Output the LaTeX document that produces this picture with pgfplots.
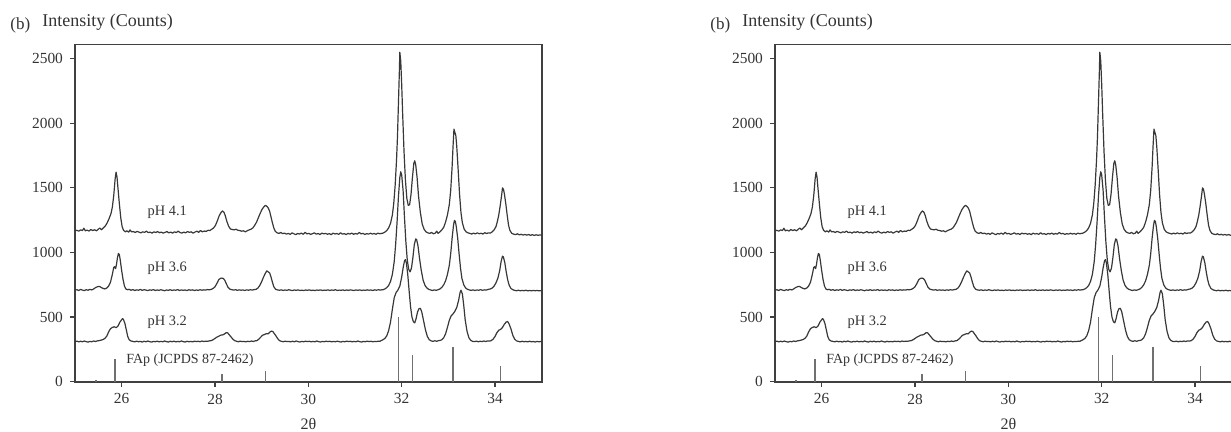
\documentclass[border=0pt]{standalone}
\usepackage{fontspec}
\setmainfont{Liberation Serif}
\usepackage{pgfplots}
\usepackage{pgfplotstable}
\pgfplotsset{compat=1.18}

% pH 4.1
\pgfplotstableread{
x y
25.00 1168
25.04 1172
25.08 1165
25.12 1175
25.16 1170
25.19 1188
25.22 1168
25.26 1173
25.30 1166
25.34 1178
25.38 1170
25.42 1176
25.46 1168
25.50 1180
25.53 1190
25.57 1176
25.61 1192
25.65 1205
25.69 1230
25.73 1262
25.77 1300
25.80 1350
25.83 1440
25.86 1570
25.88 1622
25.90 1585
25.92 1500
25.95 1380
25.98 1270
26.01 1200
26.04 1172
26.08 1160
26.11 1168
26.15 1158
26.18 1175
26.21 1160
26.25 1162
26.29 1155
26.33 1163
26.37 1158
26.41 1152
26.45 1160
26.49 1156
26.53 1165
26.57 1154
26.61 1158
26.65 1150
26.69 1160
26.73 1155
26.77 1162
26.81 1153
26.85 1158
26.89 1150
26.93 1156
26.97 1162
27.01 1152
27.05 1158
27.09 1150
27.13 1160
27.17 1154
27.21 1165
27.25 1155
27.29 1150
27.33 1158
27.37 1152
27.41 1162
27.45 1156
27.49 1160
27.53 1150
27.57 1158
27.61 1165
27.65 1156
27.69 1170
27.73 1160
27.77 1166
27.81 1163
27.85 1172
27.89 1170
27.93 1180
27.97 1190
28.01 1210
28.05 1245
28.09 1285
28.13 1310
28.16 1322
28.19 1312
28.22 1285
28.25 1245
28.29 1205
28.33 1182
28.37 1178
28.41 1175
28.45 1180
28.49 1172
28.53 1170
28.57 1165
28.61 1168
28.65 1160
28.69 1168
28.73 1175
28.77 1180
28.81 1190
28.85 1210
28.89 1235
28.93 1270
28.97 1305
29.01 1335
29.05 1355
29.08 1365
29.11 1358
29.14 1345
29.17 1320
29.20 1275
29.23 1230
29.26 1190
29.29 1165
29.33 1152
29.37 1148
29.41 1155
29.45 1146
29.49 1150
29.53 1142
29.57 1148
29.61 1140
29.65 1152
29.69 1145
29.73 1138
29.77 1147
29.81 1143
29.85 1150
29.89 1141
29.93 1156
29.97 1144
30.01 1148
30.05 1140
30.09 1146
30.13 1152
30.17 1142
30.21 1147
30.25 1139
30.29 1150
30.33 1144
30.37 1148
30.41 1141
30.45 1146
30.49 1138
30.53 1150
30.57 1143
30.61 1147
30.65 1140
30.69 1153
30.73 1142
30.77 1146
30.81 1139
30.85 1148
30.89 1143
30.93 1150
30.97 1141
31.01 1147
31.05 1142
31.09 1155
31.13 1144
31.17 1148
31.21 1140
31.25 1146
31.29 1142
31.33 1149
31.37 1143
31.41 1147
31.45 1141
31.49 1150
31.53 1145
31.57 1148
31.60 1150
31.64 1158
31.68 1170
31.72 1190
31.76 1225
31.80 1290
31.83 1380
31.86 1520
31.89 1720
31.91 1900
31.93 2150
31.95 2400
31.96 2550
31.98 2480
32.00 2300
32.02 2080
32.05 1780
32.08 1560
32.11 1420
32.14 1365
32.17 1370
32.20 1450
32.23 1580
32.26 1690
32.28 1710
32.30 1680
32.33 1580
32.36 1440
32.40 1310
32.44 1220
32.48 1180
32.52 1160
32.56 1152
32.60 1148
32.64 1155
32.68 1145
32.72 1150
32.75 1165
32.78 1148
32.82 1160
32.86 1175
32.90 1195
32.94 1235
32.98 1290
33.02 1370
33.05 1480
33.08 1660
33.10 1820
33.12 1955
33.14 1930
33.16 1905
33.18 1820
33.21 1640
33.24 1450
33.27 1310
33.30 1230
33.34 1180
33.38 1160
33.42 1152
33.46 1148
33.50 1143
33.54 1150
33.58 1144
33.62 1152
33.66 1145
33.70 1149
33.74 1143
33.78 1153
33.82 1147
33.86 1152
33.90 1150
33.94 1160
33.98 1175
34.02 1200
34.05 1240
34.08 1290
34.11 1360
34.14 1440
34.16 1500
34.18 1490
34.20 1455
34.23 1380
34.26 1290
34.29 1210
34.32 1170
34.36 1148
34.40 1142
34.44 1138
34.48 1145
34.52 1136
34.56 1141
34.60 1135
34.64 1140
34.68 1134
34.72 1139
34.76 1133
34.80 1138
34.84 1132
34.88 1137
34.92 1133
34.96 1136
35.00 1134
}\phA

% pH 3.6
\pgfplotstableread{
x y
25.00 708
25.04 712
25.08 706
25.12 714
25.16 709
25.20 705
25.24 712
25.28 708
25.32 715
25.36 710
25.40 718
25.44 728
25.48 735
25.52 738
25.56 730
25.60 722
25.64 718
25.68 725
25.72 740
25.76 770
25.80 830
25.83 885
25.85 890
25.87 875
25.89 910
25.91 960
25.93 992
25.95 985
25.97 940
26.00 860
26.03 790
26.06 740
26.09 718
26.12 712
26.16 715
26.20 708
26.24 713
26.28 706
26.32 711
26.36 708
26.40 714
26.44 707
26.48 712
26.52 709
26.56 705
26.60 711
26.64 708
26.68 713
26.72 706
26.76 710
26.80 707
26.84 712
26.88 708
26.92 704
26.96 710
27.00 707
27.04 712
27.08 706
27.12 710
27.16 708
27.20 713
27.24 706
27.28 711
27.32 707
27.36 710
27.40 705
27.44 712
27.48 708
27.52 711
27.56 706
27.60 710
27.64 707
27.68 712
27.72 708
27.76 711
27.80 709
27.84 713
27.88 711
27.92 715
27.96 722
28.00 735
28.04 760
28.08 790
28.12 800
28.15 802
28.18 798
28.21 785
28.24 760
28.28 730
28.32 716
28.36 712
28.40 709
28.44 712
28.48 707
28.52 711
28.56 708
28.60 710
28.64 706
28.68 711
28.72 708
28.76 712
28.80 709
28.84 713
28.88 715
28.92 725
28.96 745
29.00 775
29.04 810
29.08 840
29.11 858
29.14 850
29.17 842
29.20 810
29.23 770
29.26 735
29.30 715
29.34 710
29.38 708
29.42 711
29.46 706
29.50 710
29.54 707
29.58 712
29.62 708
29.66 705
29.70 710
29.74 707
29.78 711
29.82 706
29.86 709
29.90 705
29.94 710
29.98 707
30.02 711
30.06 706
30.10 709
30.14 705
30.18 710
30.22 707
30.26 711
30.30 706
30.34 709
30.38 707
30.42 711
30.46 706
30.50 710
30.54 707
30.58 712
30.62 706
30.66 709
30.70 707
30.74 711
30.78 706
30.82 710
30.86 707
30.90 711
30.94 708
30.98 706
31.02 710
31.06 707
31.10 711
31.14 706
31.18 709
31.22 707
31.26 711
31.30 708
31.34 710
31.38 706
31.42 711
31.46 708
31.50 712
31.54 709
31.57 711
31.60 712
31.64 718
31.68 728
31.72 745
31.76 775
31.80 830
31.84 930
31.87 1060
31.90 1230
31.93 1430
31.96 1580
31.98 1625
32.00 1600
32.03 1480
32.06 1270
32.09 1080
32.12 940
32.15 870
32.18 850
32.21 880
32.24 960
32.27 1060
32.30 1105
32.32 1100
32.35 1050
32.38 960
32.42 860
32.46 785
32.50 745
32.54 725
32.58 715
32.62 710
32.66 706
32.70 711
32.74 707
32.78 712
32.82 718
32.86 730
32.90 750
32.94 780
32.98 830
33.02 900
33.05 990
33.08 1110
33.11 1210
33.13 1248
33.15 1240
33.17 1200
33.20 1110
33.23 990
33.26 880
33.29 800
33.33 750
33.37 725
33.41 715
33.45 710
33.49 707
33.53 711
33.57 706
33.61 710
33.65 708
33.69 712
33.73 707
33.77 711
33.81 709
33.85 714
33.90 718
33.94 725
33.98 740
34.02 765
34.06 800
34.10 860
34.13 930
34.16 972
34.18 965
34.21 920
34.24 850
34.27 790
34.30 750
34.34 722
34.38 712
34.42 707
34.46 704
34.50 708
34.54 703
34.58 707
34.62 704
34.66 708
34.70 703
34.74 706
34.78 703
34.82 707
34.86 704
34.90 706
34.94 703
34.98 705
35.00 704
}\phB

% pH 3.2
\pgfplotstableread{
x y
25.00 310
25.04 314
25.08 308
25.12 313
25.16 309
25.20 315
25.24 310
25.28 306
25.32 312
25.36 309
25.40 315
25.44 311
25.48 316
25.52 318
25.56 322
25.60 326
25.64 335
25.68 352
25.72 385
25.76 410
25.80 420
25.84 425
25.88 418
25.92 430
25.96 460
26.00 480
26.02 488
26.04 480
26.07 450
26.10 400
26.13 350
26.16 325
26.20 315
26.24 312
26.28 308
26.32 314
26.36 309
26.40 312
26.44 307
26.48 313
26.52 309
26.56 315
26.60 310
26.64 306
26.68 312
26.72 309
26.76 314
26.80 308
26.84 312
26.88 309
26.92 315
26.96 310
27.00 307
27.04 313
27.08 309
27.12 314
27.16 308
27.20 312
27.24 309
27.28 315
27.32 310
27.36 307
27.40 313
27.44 309
27.48 312
27.52 308
27.56 314
27.60 310
27.64 313
27.68 309
27.72 315
27.76 311
27.80 314
27.84 312
27.88 316
27.92 318
27.96 325
28.00 335
28.04 345
28.08 352
28.12 360
28.16 362
28.20 368
28.24 380
28.27 378
28.30 365
28.34 348
28.38 330
28.42 318
28.46 313
28.50 309
28.54 314
28.58 310
28.62 312
28.66 308
28.70 313
28.74 310
28.78 315
28.82 311
28.86 316
28.90 318
28.94 330
28.98 345
29.02 360
29.06 365
29.10 372
29.14 370
29.18 385
29.21 392
29.24 388
29.27 372
29.30 358
29.34 335
29.38 318
29.42 313
29.46 309
29.50 314
29.54 310
29.58 312
29.62 308
29.66 313
29.70 309
29.74 315
29.78 310
29.82 307
29.86 312
29.90 309
29.94 314
29.98 310
30.02 313
30.06 308
30.10 312
30.14 309
30.18 315
30.22 310
30.26 307
30.30 312
30.34 309
30.38 314
30.42 310
30.46 313
30.50 308
30.54 312
30.58 309
30.62 314
30.66 310
30.70 307
30.74 312
30.78 309
30.82 314
30.86 310
30.90 313
30.94 308
30.98 312
31.02 309
31.06 315
31.10 310
31.14 307
31.18 312
31.22 309
31.26 314
31.30 310
31.34 313
31.38 309
31.42 312
31.46 310
31.50 314
31.53 312
31.56 318
31.60 325
31.64 335
31.68 355
31.72 395
31.76 460
31.80 560
31.84 650
31.88 690
31.92 710
31.96 740
32.00 810
32.03 880
32.06 935
32.08 945
32.10 920
32.13 830
32.16 700
32.19 580
32.22 500
32.25 465
32.28 455
32.31 490
32.34 540
32.37 565
32.40 568
32.43 540
32.47 470
32.51 400
32.55 350
32.59 325
32.63 316
32.67 312
32.71 317
32.75 313
32.79 318
32.83 320
32.86 325
32.90 340
32.94 370
32.98 420
33.02 475
33.06 510
33.10 525
33.14 545
33.18 575
33.22 630
33.25 690
33.27 708
33.30 680
33.33 590
33.36 480
33.40 390
33.44 340
33.48 320
33.52 312
33.56 310
33.60 314
33.64 309
33.68 313
33.72 310
33.76 315
33.80 311
33.84 316
33.88 314
33.92 318
33.96 330
34.00 350
34.04 380
34.08 398
34.12 405
34.16 420
34.20 445
34.24 462
34.27 466
34.30 448
34.34 410
34.38 360
34.42 330
34.46 316
34.50 312
34.54 308
34.58 313
34.62 309
34.66 312
34.70 308
34.74 313
34.78 309
34.82 311
34.86 307
34.90 312
34.94 309
34.98 311
35.00 310
}\phC

% FAp reference pattern (JCPDS 87-2462)
\pgfplotstableread{
x y
25.45 15
25.86 178
28.15 60
29.08 80
31.93 500
32.23 207
33.10 272
34.12 125
}\sticks

\definecolor{frame}{HTML}{404040}
\definecolor{curve}{HTML}{383838}
\definecolor{stick}{HTML}{707070}
\definecolor{txt}{HTML}{333333}

\pgfplotsset{
  xrd/.style={
    scale only axis, anchor=south west,
    width=233.35pt, height=168.6pt,
    xmin=25, xmax=35, ymin=0, ymax=2610,
    xtick={26,28,30,32,34}, ytick={0,500,1000,1500,2000,2500},
    tick pos=left, tick align=outside, major tick length=2.5pt,
    axis line style={line width=0.9pt, draw=frame},
    tick style={line width=0.6pt, draw=frame},
    ticklabel style={font=\fontsize{7.7}{9}\selectfont, text=txt},
    /pgf/number format/assume math mode=true,
    /pgf/number format/1000 sep={},
    xlabel={2θ},
    xlabel style={font=\fontsize{8}{9}\selectfont, text=txt, at={(axis description cs:0.5,0)}, anchor=center, yshift=-21.1pt},
  },
  curvestyle/.style={curve, line width=0.6pt, no marks, line join=round},
}

\newcommand{\panel}{%
  \addplot[curvestyle] table {\phA};
  \addplot[curvestyle] table {\phB};
  \addplot[curvestyle] table {\phC};
  \addplot[ycomb, stick, line width=0.8pt, no marks] table {\sticks};
  \node[anchor=west, inner sep=0pt, text=txt, font=\fontsize{7.2}{8}\selectfont] at (axis cs:26.55,1315) {pH 4.1};
  \node[anchor=west, inner sep=0pt, text=txt, font=\fontsize{7.2}{8}\selectfont] at (axis cs:26.55,875) {pH 3.6};
  \node[anchor=west, inner sep=0pt, text=txt, font=\fontsize{7.2}{8}\selectfont] at (axis cs:26.55,457) {pH 3.2};
  \node[anchor=west, inner sep=0pt, text=txt, font=\fontsize{7}{8}\selectfont] at (axis cs:26.09,168) {FAp (JCPDS 87-2462)};
}

\begin{document}
\begin{tikzpicture}
\path[use as bounding box, clip] (0,0) rectangle (615.5pt,216pt);

\begin{axis}[xrd, at={(37.5pt,25.15pt)}]
\panel
\end{axis}
\node[anchor=west, inner sep=0pt, text=txt, font=\fontsize{8.5}{10}\selectfont] at (5pt,203.5pt) {(b)};
\node[anchor=west, inner sep=0pt, text=txt, font=\fontsize{9}{11}\selectfont] at (21pt,205pt) {Intensity (Counts)};

\begin{axis}[xrd, at={(387.5pt,25.15pt)}]
\panel
\end{axis}
\node[anchor=west, inner sep=0pt, text=txt, font=\fontsize{8.5}{10}\selectfont] at (355pt,203.5pt) {(b)};
\node[anchor=west, inner sep=0pt, text=txt, font=\fontsize{9}{11}\selectfont] at (371pt,205pt) {Intensity (Counts)};
\end{tikzpicture}
\end{document}
